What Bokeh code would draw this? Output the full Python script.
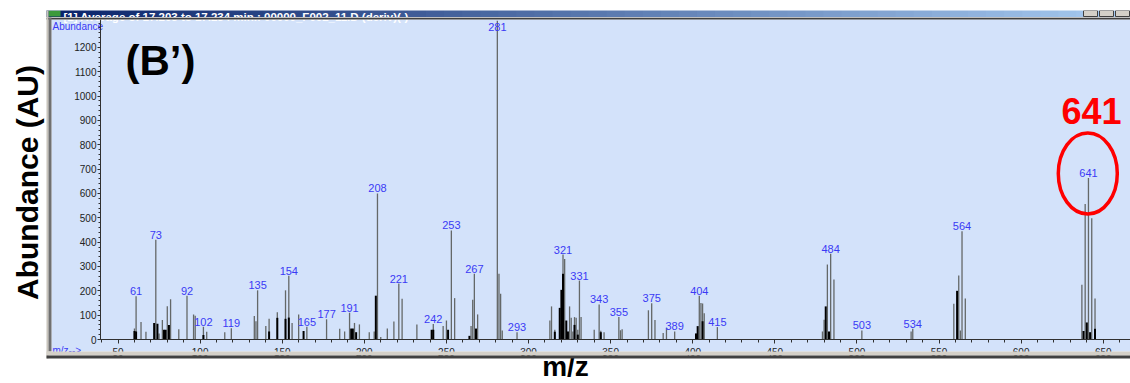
import numpy as np
from bokeh.plotting import figure
from bokeh.models import ColumnDataSource, FixedTicker, Range1d
from bokeh.core.properties import value
from bokeh.embed import file_html
from bokeh.resources import INLINE

# ---- spectrum data -------------------------------------------------------
# main (grey) trace: m/z and abundance
mz_main = [60, 61, 64, 67, 73, 75, 77, 80, 82, 87, 92, 96, 97, 102, 104, 115,
           119, 133, 134, 135, 140, 142, 147, 152, 154, 156, 160, 165, 177,
           185, 188, 191, 194, 197, 203, 206, 208, 210, 214, 218, 221, 223,
           232, 242, 248, 250, 253, 255, 265, 266, 267, 269, 281, 282, 283,
           284, 293, 313, 314, 316, 319, 321, 322, 325, 326, 327, 328, 329,
           330, 331, 332, 340, 343, 344, 346, 355, 356, 357, 373, 375, 377,
           382, 384, 389, 404, 405, 406, 407, 415, 479, 480, 482, 484, 486,
           503, 533, 534, 559, 562, 563, 564, 566, 637, 639, 641, 643, 645]
ab_main = [45, 178, 72, 32, 410, 25, 80, 137, 165, 42, 180, 103, 98, 52, 32, 30,
           46, 97, 75, 202, 55, 85, 112, 202, 262, 68, 103, 52, 83,
           44, 33, 110, 68, 62, 30, 33, 600, 10, 45, 74, 230, 167,
           62, 64, 55, 78, 448, 170, 55, 163, 270, 103, 1310, 270, 188,
           37, 30, 78, 136, 40, 64, 349, 331, 136, 89, 33, 92, 89,
           40, 242, 92, 40, 144, 36, 30, 92, 38, 42, 120, 149, 80,
           27, 48, 33, 180, 150, 148, 108, 51, 33, 81, 308, 352, 246,
           37, 33, 44, 147, 263, 37, 445, 168, 225, 557, 664, 498, 168]

# overlaid dark trace
mz_dark = [60, 61, 72, 74, 78, 79, 81, 102, 142, 147, 152, 154, 163, 192, 193,
           195, 207, 241, 242, 251, 264, 268, 316, 319, 320, 321, 323, 324,
           328, 330, 344, 402, 403, 406, 481, 483, 561, 638, 640, 642, 645]
ab_dark = [35, 33, 68, 65, 40, 40, 60, 18, 33, 89, 85, 90, 35, 45, 45,
           30, 180, 40, 40, 40, 15, 45, 32, 130, 204, 270, 78, 33,
           60, 20, 30, 25, 55, 75, 136, 33, 200, 35, 70, 30, 44]

# peaks carrying an m/z annotation
labelled_mz = [61, 73, 92, 102, 119, 135, 154, 165, 177, 191, 208, 221, 242,
               253, 267, 281, 293, 321, 331, 343, 355, 375, 389, 404, 415,
               484, 503, 534, 564, 641]

y_ticks = list(range(0, 1300, 100))
y_minor = list(range(0, 1320, 20))
x_ticks = list(range(50, 700, 50))
x_minor = list(range(40, 670, 10))

highlight_mz = 641

assert len(mz_main) == len(ab_main)
assert len(mz_dark) == len(ab_dark)

# ---- canvas geometry -----------------------------------------------------
W, H = 1130, 383
PX_PER_MZ = 1.642          # horizontal scale
PX_PER_AB = 0.2434         # vertical scale
BASE_PX = 339              # screen row of abundance 0
x_start = 73 - 155.3 / PX_PER_MZ
x_end = x_start + W / PX_PER_MZ
y_end = BASE_PX / PX_PER_AB
y_start = y_end - H / PX_PER_AB


def X(px):
    return x_start + px / PX_PER_MZ


def Y(py):
    return y_end - py / PX_PER_AB


p = figure(width=W, height=H, x_range=Range1d(x_start, x_end),
           y_range=Range1d(y_start, y_end), toolbar_location=None, tools="",
           output_backend="svg", min_border=0, title=None,
           outline_line_color=None, background_fill_color="white",
           border_fill_color="white")
p.grid.visible = False

SANS = value("Liberation Sans")

# window client area
p.quad(left=[X(51)], right=[X(W)], top=[Y(19)], bottom=[Y(351)],
       fill_color="#d3e2fa", line_color=None)

# spectrum sticks
main = ColumnDataSource(dict(mz=mz_main, ab=ab_main, zero=[0] * len(mz_main)))
dark = ColumnDataSource(dict(mz=mz_dark, ab=ab_dark, zero=[0] * len(mz_dark)))
p.segment(x0="mz", y0="zero", x1="mz", y1="ab", source=main,
          line_color="#646868", line_width=1.3)
p.segment(x0="mz", y0="zero", x1="mz", y1="ab", source=dark,
          line_color="#000000", line_width=2)

# peak annotations
lookup = dict(zip(mz_main, ab_main))
label_cap = Y(31)
lab = ColumnDataSource(dict(
    mz=labelled_mz,
    y=[min(lookup[m], label_cap) for m in labelled_mz],
    txt=[str(m) for m in labelled_mz]))
p.text(x="mz", y="y", text="txt", source=lab, text_align="center",
       text_baseline="bottom", y_offset=-1, text_font=SANS,
       text_font_size="11px", text_color="#3a3af5")

# corner captions of the spectrum window
p.text(x=[X(52)], y=[Y(26)], text=["Abundance"], text_align="left",
       text_baseline="middle", text_font=SANS, text_font_size="10px",
       text_color="#3a3af5")
p.text(x=[X(52)], y=[Y(350)], text=["m/z-->"], text_align="left",
       text_baseline="middle", text_font=SANS, text_font_size="10px",
       text_color="#3a3af5")

# axes, drawn inside the window
yax = p.yaxis[0]
yax.fixed_location = X(100)
yax.bounds = (0, Y(19))
yax.ticker = FixedTicker(ticks=y_ticks, minor_ticks=y_minor)
xax = p.xaxis[0]
xax.fixed_location = 0
xax.bounds = (X(100), x_end)
xax.ticker = FixedTicker(ticks=x_ticks, minor_ticks=x_minor)
for ax in (xax, yax):
    ax.axis_line_color = "#303030"
    ax.major_tick_line_color = "#303030"
    ax.minor_tick_line_color = "#303030"
    ax.major_tick_in = 0
    ax.minor_tick_in = 0
    ax.major_label_text_font = "Liberation Sans"
    ax.major_label_text_font_size = "10px"
    ax.major_label_text_color = "#222222"
yax.major_tick_out = 3
yax.minor_tick_out = 2
yax.major_label_standoff = 1
xax.major_tick_out = 4
xax.minor_tick_out = 3
xax.major_label_standoff = 4

# panel label and highlighted ion
p.text(x=[X(160)], y=[Y(60)], text=["(B\u2019)"], text_align="center",
       text_baseline="middle", text_font=value("Liberation Sans"),
       text_font_style="bold", text_font_size="42px", text_color="black")
p.text(x=[X(1091)], y=[Y(110)], text=[str(highlight_mz)], text_align="center",
       text_baseline="middle", text_font=value("Liberation Sans"),
       text_font_style="bold", text_font_size="36px", text_color="#ff0000")
p.ellipse(x=[highlight_mz - 0.4], y=[Y(173)], width=59 / PX_PER_MZ,
          height=81 / PX_PER_AB, fill_color=None, line_color="#ff0000",
          line_width=3.5)

# axis titles
p.text(x=[X(27)], y=[Y(182)], text=["Abundance (AU)"], angle=np.pi / 2,
       text_align="center", text_baseline="middle",
       text_font=value("Liberation Sans"), text_font_style="bold",
       text_font_size="30px", text_color="black")
p.text(x=[X(565)], y=[Y(366)], text=["m/z"], text_align="center",
       text_baseline="middle", text_font=value("Liberation Sans"),
       text_font_style="bold", text_font_size="28px", text_color="black")

# ---- window frame drawn over the axes ------------------------------------
OV = "overlay"
# title bar gradient
c0 = np.array([0x0A, 0x24, 0x6A])
c1 = np.array([0xA6, 0xCA, 0xF0])
edges = np.linspace(46, W, 61)
cols = ["#%02x%02x%02x" % tuple(np.round(c0 + (c1 - c0) * t).astype(int))
        for t in np.linspace(0, 1, 60)]
p.quad(left=[X(e) for e in edges[:-1]], right=[X(e) + 0.7 for e in edges[1:]],
       top=[Y(9)] * 60, bottom=[Y(16.5)] * 60, fill_color=cols,
       line_color=None, level=OV)
p.quad(left=[X(48)], right=[X(60)], top=[Y(10)], bottom=[Y(16)],
       fill_color="#3c9a3c", line_color=None, level=OV)
p.text(x=[X(63)], y=[Y(16)], text=["[1] Average of 17.203 to 17.234 min.: "
                                    "00000_F002_11.D (deriv)(-)"],
       text_align="left", text_baseline="alphabetic",
       text_font=value("Liberation Sans"), text_font_style="bold",
       text_font_size="11.5px", text_color="white", level=OV)
# caption buttons
for bx in (1083, 1099, 1115):
    p.quad(left=[X(bx)], right=[X(bx + 14)], top=[Y(10)], bottom=[Y(16)],
           fill_color="#d4d0c8", line_color="#404040", line_width=1, level=OV)
# page area above the window
p.quad(left=[X(0)], right=[X(W)], top=[Y(0)], bottom=[Y(10)],
       fill_color="white", line_color=None, level=OV)
# frame lines
p.quad(left=[X(46)], right=[X(W)], top=[Y(16.5)], bottom=[Y(17.5)],
       fill_color="#c0c0c0", line_color=None, level=OV)
p.quad(left=[X(46)], right=[X(W)], top=[Y(17.5)], bottom=[Y(19)],
       fill_color="#404040", line_color=None, level=OV)
p.quad(left=[X(46)], right=[X(48)], top=[Y(10)], bottom=[Y(358)],
       fill_color="#c8c4bc", line_color=None, level=OV)
p.quad(left=[X(48)], right=[X(51)], top=[Y(17)], bottom=[Y(351)],
       fill_color="#707070", line_color=None, level=OV)
p.quad(left=[X(46)], right=[X(W)], top=[Y(351)], bottom=[Y(355)],
       fill_color="#d4d0c8", line_color=None, level=OV)
p.quad(left=[X(46)], right=[X(W)], top=[Y(355)], bottom=[Y(358)],
       fill_color="#404040", line_color=None, level=OV)

open("out.html", "w").write(file_html(p, INLINE))
